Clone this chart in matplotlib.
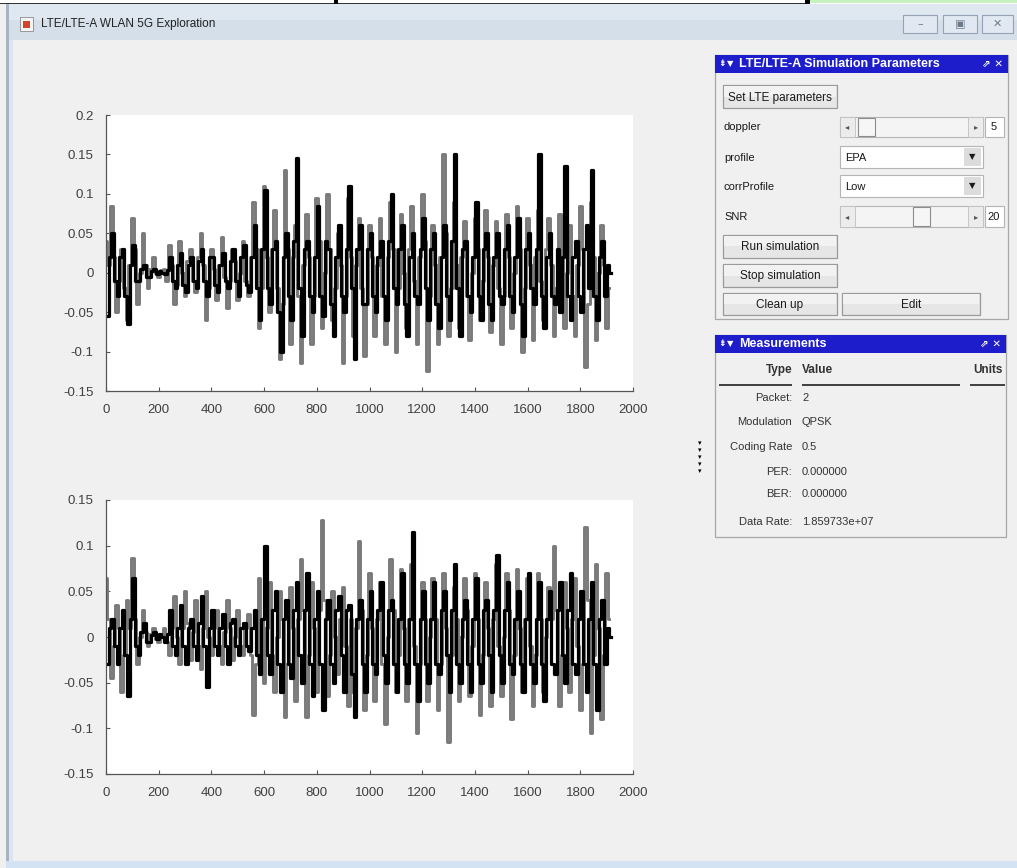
import matplotlib
matplotlib.use("Agg")
import matplotlib.pyplot as plt
from matplotlib.patches import Rectangle

# sample index of each value (every 10th sample of the received waveform)
sample_idx = list(range(0, 1920, 10))

# upper plot: two channel traces (gray drawn first, black on top)
top_gray = [
    0.04, 0.01, 0.085, 0.02, -0.05, -0.01, 0.03, -0.02, -0.06, 0.01, 0.07, 0.03, -0.04, 0.0, 0.05, 0.01, -0.02, 0.005, 0.02, 0.0,
    -0.005, 0.003, 0.005, -0.01, 0.035, 0.01, -0.04, -0.015, 0.04, 0.0, -0.03, 0.015, 0.03, -0.01, -0.025, 0.02, 0.05, 0.01, -0.06, -0.02,
    0.03, 0.005, -0.035, 0.01, 0.045, -0.005, -0.045, -0.01, 0.03, 0.015, -0.035, 0.0, 0.04, -0.01, -0.03, 0.02, 0.09, 0.03, -0.07, -0.02,
    0.11, 0.02, -0.05, 0.03, 0.08, -0.02, -0.11, -0.04, 0.13, 0.03, -0.09, 0.02, 0.06, -0.03, -0.115, 0.01, 0.075, 0.02, -0.09, -0.03,
    0.095, 0.04, -0.07, 0.0, 0.1, 0.03, -0.06, -0.02, 0.05, 0.01, -0.115, -0.03, 0.095, 0.02, -0.08, 0.01, 0.07, -0.02, -0.105, -0.04,
    0.06, 0.02, -0.08, 0.01, 0.07, -0.03, -0.09, 0.02, 0.09, 0.03, -0.1, -0.02, 0.075, 0.0, -0.07, 0.03, 0.085, -0.01, -0.09, 0.02,
    0.1, 0.04, -0.125, -0.03, 0.06, 0.01, -0.09, 0.02, 0.15, 0.05, -0.08, -0.02, 0.09, 0.01, -0.07, 0.02, 0.065, -0.03, -0.085, 0.0,
    0.07, 0.03, -0.06, -0.01, 0.08, 0.02, -0.075, 0.01, 0.065, -0.02, -0.09, -0.03, 0.075, 0.02, -0.07, 0.0, 0.085, 0.03, -0.1, -0.02,
    0.07, 0.01, -0.085, 0.02, 0.08, -0.01, -0.06, 0.03, 0.07, 0.01, -0.08, -0.02, 0.075, 0.02, -0.07, 0.0, 0.06, -0.03, -0.08, 0.01,
    0.085, 0.03, -0.12, -0.04, 0.09, 0.02, -0.085, 0.0, 0.06, 0.01, -0.07, -0.02]
top_black = [
    -0.055, 0.02, 0.05, -0.01, -0.03, 0.02, 0.03, -0.03, -0.065, 0.01, 0.035, -0.01, -0.01, 0.005, 0.01, -0.005, -0.005, 0.002, 0.005, -0.002,
    0.002, 0.0, -0.002, 0.003, 0.02, -0.01, -0.02, 0.01, 0.025, -0.015, -0.025, 0.01, 0.02, -0.01, -0.02, 0.015, 0.03, -0.01, -0.03, 0.02,
    0.02, -0.015, -0.025, 0.01, 0.025, -0.01, -0.02, 0.015, 0.03, -0.01, -0.03, 0.02, 0.035, -0.015, -0.025, 0.02, 0.06, -0.02, -0.06, 0.03,
    0.105, -0.02, -0.04, 0.03, 0.04, -0.05, -0.1, 0.02, 0.05, -0.03, -0.06, 0.04, 0.145, -0.02, -0.08, 0.03, 0.04, -0.03, -0.05, 0.02,
    0.085, -0.03, -0.055, 0.04, 0.03, -0.04, -0.08, 0.02, 0.06, -0.03, -0.05, 0.03, 0.11, -0.02, -0.11, 0.03, 0.06, -0.04, -0.04, 0.03,
    0.05, -0.03, -0.05, 0.02, 0.04, -0.03, -0.06, 0.04, 0.1, -0.02, -0.04, 0.03, 0.06, -0.04, -0.08, 0.02, 0.05, -0.03, -0.04, 0.03,
    0.07, -0.02, -0.06, 0.03, 0.05, -0.04, -0.07, 0.02, 0.06, -0.03, -0.06, 0.04, 0.15, -0.02, -0.08, 0.03, 0.04, -0.03, -0.05, 0.02,
    0.09, -0.03, -0.06, 0.03, 0.05, -0.04, -0.06, 0.02, 0.05, -0.03, -0.04, 0.03, 0.06, -0.03, -0.05, 0.02, 0.07, -0.04, -0.08, 0.03,
    0.05, -0.02, -0.04, 0.03, 0.15, -0.03, -0.07, 0.02, 0.05, -0.03, -0.04, 0.03, -0.05, 0.02, 0.135, -0.03, -0.06, 0.02, 0.04, -0.03,
    -0.05, 0.03, 0.06, -0.02, 0.13, -0.03, -0.06, 0.02, 0.04, -0.03, 0.01, 0.0]

# lower plot
bot_gray = [
    0.065, 0.02, -0.045, -0.01, 0.035, 0.01, -0.06, -0.02, 0.04, 0.01, 0.087, 0.02, -0.03, 0.0, 0.03, 0.005, -0.01, 0.003, 0.01, -0.002,
    -0.005, 0.002, 0.01, -0.005, -0.02, 0.01, 0.045, 0.0, -0.03, 0.01, 0.05, 0.015, -0.025, 0.005, 0.04, -0.01, -0.035, 0.01, 0.05, 0.0,
    -0.02, 0.01, 0.03, -0.01, -0.03, 0.005, 0.04, 0.01, -0.025, 0.0, 0.03, -0.01, -0.02, 0.01, 0.025, -0.02, -0.085, -0.03, 0.065, 0.02,
    -0.05, 0.01, 0.06, -0.02, -0.06, 0.0, 0.05, 0.02, -0.088, -0.03, 0.055, 0.01, -0.07, 0.02, 0.085, 0.03, -0.088, -0.02, 0.06, 0.01,
    -0.06, 0.03, 0.128, 0.04, -0.065, -0.02, 0.05, 0.0, -0.04, 0.02, 0.055, -0.01, -0.075, 0.02, -0.06, 0.01, 0.105, 0.03, -0.08, -0.02,
    0.07, 0.01, -0.07, 0.02, 0.06, -0.03, -0.095, 0.0, 0.085, 0.03, -0.06, -0.02, 0.075, 0.01, -0.07, 0.02, 0.08, -0.01, -0.105, -0.03,
    0.06, 0.02, -0.07, 0.0, 0.065, 0.02, -0.08, -0.03, 0.07, 0.01, -0.115, -0.02, 0.055, 0.02, -0.07, 0.0, 0.065, 0.03, -0.065, -0.01,
    0.07, 0.02, -0.085, -0.02, 0.06, 0.01, -0.075, 0.02, 0.08, -0.01, -0.065, 0.0, 0.07, 0.03, -0.09, -0.02, 0.075, 0.01, -0.06, 0.02,
    0.065, -0.01, -0.075, -0.02, 0.07, 0.02, -0.06, 0.0, 0.055, 0.02, 0.1, 0.03, -0.075, -0.02, 0.06, 0.01, -0.06, 0.02, 0.065, -0.01,
    -0.08, -0.03, 0.12, 0.04, -0.105, -0.02, 0.08, 0.01, -0.09, -0.02, 0.07, 0.02]
bot_black = [
    -0.03, 0.01, 0.02, -0.01, -0.03, 0.01, 0.03, -0.02, -0.065, 0.02, 0.065, -0.01, -0.02, 0.005, 0.015, -0.005, -0.005, 0.002, 0.005, -0.002,
    0.003, 0.0, -0.005, 0.003, 0.03, -0.01, -0.02, 0.01, 0.035, -0.01, -0.03, 0.01, 0.02, -0.01, -0.025, 0.015, 0.045, -0.01, -0.055, 0.01,
    0.03, -0.01, -0.02, 0.01, 0.025, -0.01, -0.03, 0.015, 0.02, -0.01, -0.02, 0.01, 0.015, -0.01, -0.015, 0.01, 0.03, -0.02, -0.04, 0.02,
    0.1, -0.02, -0.04, 0.03, 0.05, -0.03, -0.06, 0.02, 0.04, -0.03, -0.045, 0.03, 0.06, -0.02, -0.05, 0.03, 0.07, -0.03, -0.065, 0.02,
    0.05, -0.03, -0.08, 0.02, 0.04, -0.03, -0.05, 0.03, 0.045, -0.02, -0.06, 0.03, 0.035, -0.04, -0.088, 0.02, 0.04, -0.03, -0.06, 0.02,
    0.05, -0.03, -0.04, 0.03, 0.06, -0.02, -0.05, 0.03, 0.04, -0.03, -0.06, 0.02, 0.07, -0.03, -0.05, 0.02, 0.115, -0.03, -0.07, 0.02,
    0.05, -0.03, -0.05, 0.02, 0.06, -0.03, -0.04, 0.03, 0.05, -0.02, -0.06, 0.03, 0.08, -0.03, -0.05, 0.02, 0.04, -0.03, -0.06, 0.02,
    0.065, -0.03, -0.05, 0.03, 0.04, -0.02, -0.06, 0.03, 0.09, -0.02, -0.05, 0.03, 0.06, -0.03, -0.04, 0.02, 0.05, -0.03, -0.06, 0.02,
    0.07, -0.03, -0.05, 0.02, 0.06, -0.03, -0.07, 0.02, 0.05, -0.03, -0.04, 0.03, 0.06, -0.02, -0.05, 0.03, 0.07, -0.03, -0.04, 0.02,
    0.05, -0.03, -0.06, 0.02, 0.06, -0.03, -0.08, 0.02, 0.04, -0.03, 0.01, 0.0]

# the black trace is sampled half a step later than the gray one
black_offset = 5

xticks = list(range(0, 2001, 200))
top_yticks = [-0.15, -0.1, -0.05, 0, 0.05, 0.1, 0.15, 0.2]
bot_yticks = [-0.15, -0.1, -0.05, 0, 0.05, 0.1, 0.15]

# right hand panels
param_labels = ["doppler", "profile", "corrProfile", "SNR"]
doppler_value = "5"
snr_value = "20"
profile_value = "EPA"
corr_value = "Low"
meas_types = ["Packet:", "Modulation", "Coding Rate", "PER:", "BER:", "Data Rate:"]
meas_values = ["2", "QPSK", "0.5", "0.000000", "0.000000", "1.859733e+07"]

W, H = 1017, 868
plt.rcParams['font.family'] = ['Liberation Sans', 'DejaVu Sans']
fig = plt.figure(figsize=(W / 100, H / 100), dpi=100, facecolor='#f0f0f0')


def rect(x0, y0, x1, y1, **kw):
    kw.setdefault('linewidth', 0)
    r = Rectangle((x0 / W, 1 - y1 / H), (x1 - x0) / W, (y1 - y0) / H,
                  transform=fig.transFigure, **kw)
    fig.add_artist(r)
    return r


def text(x, y, s, **kw):
    kw.setdefault('va', 'center')
    kw.setdefault('fontsize', 8)
    kw.setdefault('color', '#1a1a1a')
    return fig.text(x / W, 1 - y / H, s, **kw)


def button(x0, y0, x1, y1, label):
    rect(x0, y0, x1, y1, facecolor='#e6e6e6', edgecolor='#9a9a9a', linewidth=0.9)
    rect(x0 + 1, y0 + 1, x1 - 1, (y0 + y1) / 2, facecolor='#f2f2f2')
    text((x0 + x1) / 2, (y0 + y1) / 2 + 1, label, ha='center', fontsize=8.5)


def slider(y0, y1, thumb_x):
    rect(840, y0, 983, y1, facecolor='#f4f4f4', edgecolor='#b4b4b4', linewidth=0.8)
    rect(840, y0, 855, y1, facecolor='#ececec', edgecolor='#c0c0c0', linewidth=0.6)
    rect(968, y0, 983, y1, facecolor='#ececec', edgecolor='#c0c0c0', linewidth=0.6)
    text(847, (y0 + y1) / 2, '\u25c2', ha='center', fontsize=6, color='#555555',
         family='DejaVu Sans')
    text(976, (y0 + y1) / 2, '\u25b8', ha='center', fontsize=6, color='#555555',
         family='DejaVu Sans')
    rect(thumb_x, y0 + 1, thumb_x + 17, y1 - 1, facecolor='#f6f6f6',
         edgecolor='#8c8c8c', linewidth=0.8)


def dropdown(y0, y1, label):
    rect(840, y0, 983, y1, facecolor='white', edgecolor='#b4b4b4', linewidth=0.8)
    rect(964, y0 + 2, 981, y1 - 2, facecolor='#dcdcdc')
    text(845, (y0 + y1) / 2 + 1, label, fontsize=8)
    text(972, (y0 + y1) / 2, '\u25bc', ha='center', fontsize=6, family='DejaVu Sans')


def panel_header(y0, y1, title, x_right):
    rect(715, y0, x_right, y1, facecolor='#1d1dcc')
    ym = (y0 + y1) / 2
    text(718, ym, '\u21df', color='white', fontsize=6.5, fontweight='bold',
         family='DejaVu Sans')
    text(727, ym, '\u25bc', color='white', fontsize=6, family='DejaVu Sans')
    text(739, ym, title, color='white', fontsize=9, fontweight='bold')
    text(x_right - 5, ym, '\u21d7 \u2715', color='white', fontsize=7.5,
         fontweight='bold', ha='right', family='DejaVu Sans')


# --- window chrome ---
rect(0, 0, W, 4, facecolor='white')
rect(0, 3, 805, 4, facecolor='#333333')
rect(334, 0, 338, 4, facecolor='black')
rect(805, 0, 810, 4, facecolor='black')
rect(810, 0, W, 3, facecolor='#c6f2bf')
rect(6, 4, W, 40, facecolor='#d5dfea')
rect(6, 4, W, 20, facecolor='#dfe7f0')
rect(6, 4, 9, H, facecolor='#a9b4c2')
rect(9, 40, 13, H, facecolor='#dbe6f2')
rect(6, 861, W, H, facecolor='#d3e3f3')
rect(20, 17, 33, 31, facecolor='#f4f4f4', edgecolor='#8a8a8a', linewidth=0.6)
rect(23, 21, 30, 28, facecolor='#d2452a')
text(41, 24, 'LTE/LTE-A WLAN 5G Exploration', fontsize=8.5, color='#222222')
for bx0, bx1, glyph in [(903, 937, '\u2013'), (943, 977, '\u25a3'), (982, 1013, '\u2715')]:
    rect(bx0, 15, bx1, 33, facecolor='#e1e8f1', edgecolor='#93a2b6', linewidth=0.8)
    text((bx0 + bx1) / 2, 24, glyph, ha='center', fontsize=8, color='#6d7a8a',
         family='DejaVu Sans')


# --- plots ---
def trace_axes(y_top, y_bot, gray, black, yticks):
    ax = fig.add_axes([106 / W, 1 - y_bot / H, 527 / W, (y_bot - y_top) / H])
    black_idx = [s + black_offset for s in sample_idx]
    ax.plot(sample_idx, gray, drawstyle='steps-mid', color='#7a7a7a', linewidth=2.1)
    ax.plot(black_idx, black, drawstyle='steps-mid', color='black', linewidth=2.3)
    ax.set_xlim(0, 2000)
    ax.set_ylim(yticks[0], yticks[-1])
    ax.set_xticks(xticks)
    ax.set_yticks(yticks)
    ax.set_yticklabels([f'{t:g}' for t in yticks])
    for side in ['top', 'right']:
        ax.spines[side].set_visible(False)
    for side in ['left', 'bottom']:
        ax.spines[side].set_color('#555555')
        ax.spines[side].set_linewidth(0.9)
    ax.tick_params(direction='in', length=3, width=0.8, colors='#555555',
                   labelcolor='#404040', labelsize=9.5)
    ax.tick_params(axis='x', pad=9)
    ax.tick_params(axis='y', pad=9)
    return ax


trace_axes(115, 391, top_gray, top_black, top_yticks)
trace_axes(500, 774, bot_gray, bot_black, bot_yticks)

# --- simulation parameters panel ---
rect(715, 55, 1008, 319, facecolor='#f0f0f0', edgecolor='#a8a8a8', linewidth=0.9)
panel_header(55, 73, 'LTE/LTE-A Simulation Parameters', 1008)

button(723, 85, 837, 108, 'Set LTE parameters')
label_rows = [127, 158, 187, 217]
for lab, yy in zip(param_labels, label_rows):
    text(724, yy, lab, fontsize=8)
slider(117, 137, 858)
rect(985, 117, 1004, 137, facecolor='white', edgecolor='#b4b4b4', linewidth=0.8)
text(994, 127, doppler_value, ha='center', fontsize=8)
dropdown(146, 168, profile_value)
dropdown(175, 197, corr_value)
slider(206, 227, 913)
rect(985, 206, 1004, 227, facecolor='white', edgecolor='#b4b4b4', linewidth=0.8)
text(994, 217, snr_value, ha='center', fontsize=8)
button(723, 235, 837, 258, 'Run simulation')
button(723, 264, 837, 287, 'Stop simulation')
button(723, 293, 837, 315, 'Clean up')
button(842, 293, 980, 315, 'Edit')

# --- measurements panel ---
rect(715, 335, 1006, 537, facecolor='#f0f0f0', edgecolor='#a8a8a8', linewidth=0.9)
panel_header(335, 353, 'Measurements', 1006)
text(792, 370, 'Type', ha='right', fontsize=8.5, fontweight='bold', color='#333333')
text(802, 370, 'Value', fontsize=8.5, fontweight='bold', color='#333333')
text(1003, 370, 'Units', ha='right', fontsize=8.5, fontweight='bold', color='#333333')
rect(719, 384, 792, 386, facecolor='#444444')
rect(802, 384, 960, 386, facecolor='#444444')
rect(970, 384, 1005, 386, facecolor='#444444')
meas_rows = [398, 422, 447, 472, 494, 522]
for lab, val, yy in zip(meas_types, meas_values, meas_rows):
    text(792, yy, lab, ha='right', fontsize=8, color='#333333')
    text(802, yy, val, fontsize=8, color='#333333')

for k in range(5):
    text(700, 443 + 7 * k, '\u25be', ha='center', fontsize=5, family='DejaVu Sans',
         color='black')

fig.savefig('out.png', dpi=100, facecolor=fig.get_facecolor())
